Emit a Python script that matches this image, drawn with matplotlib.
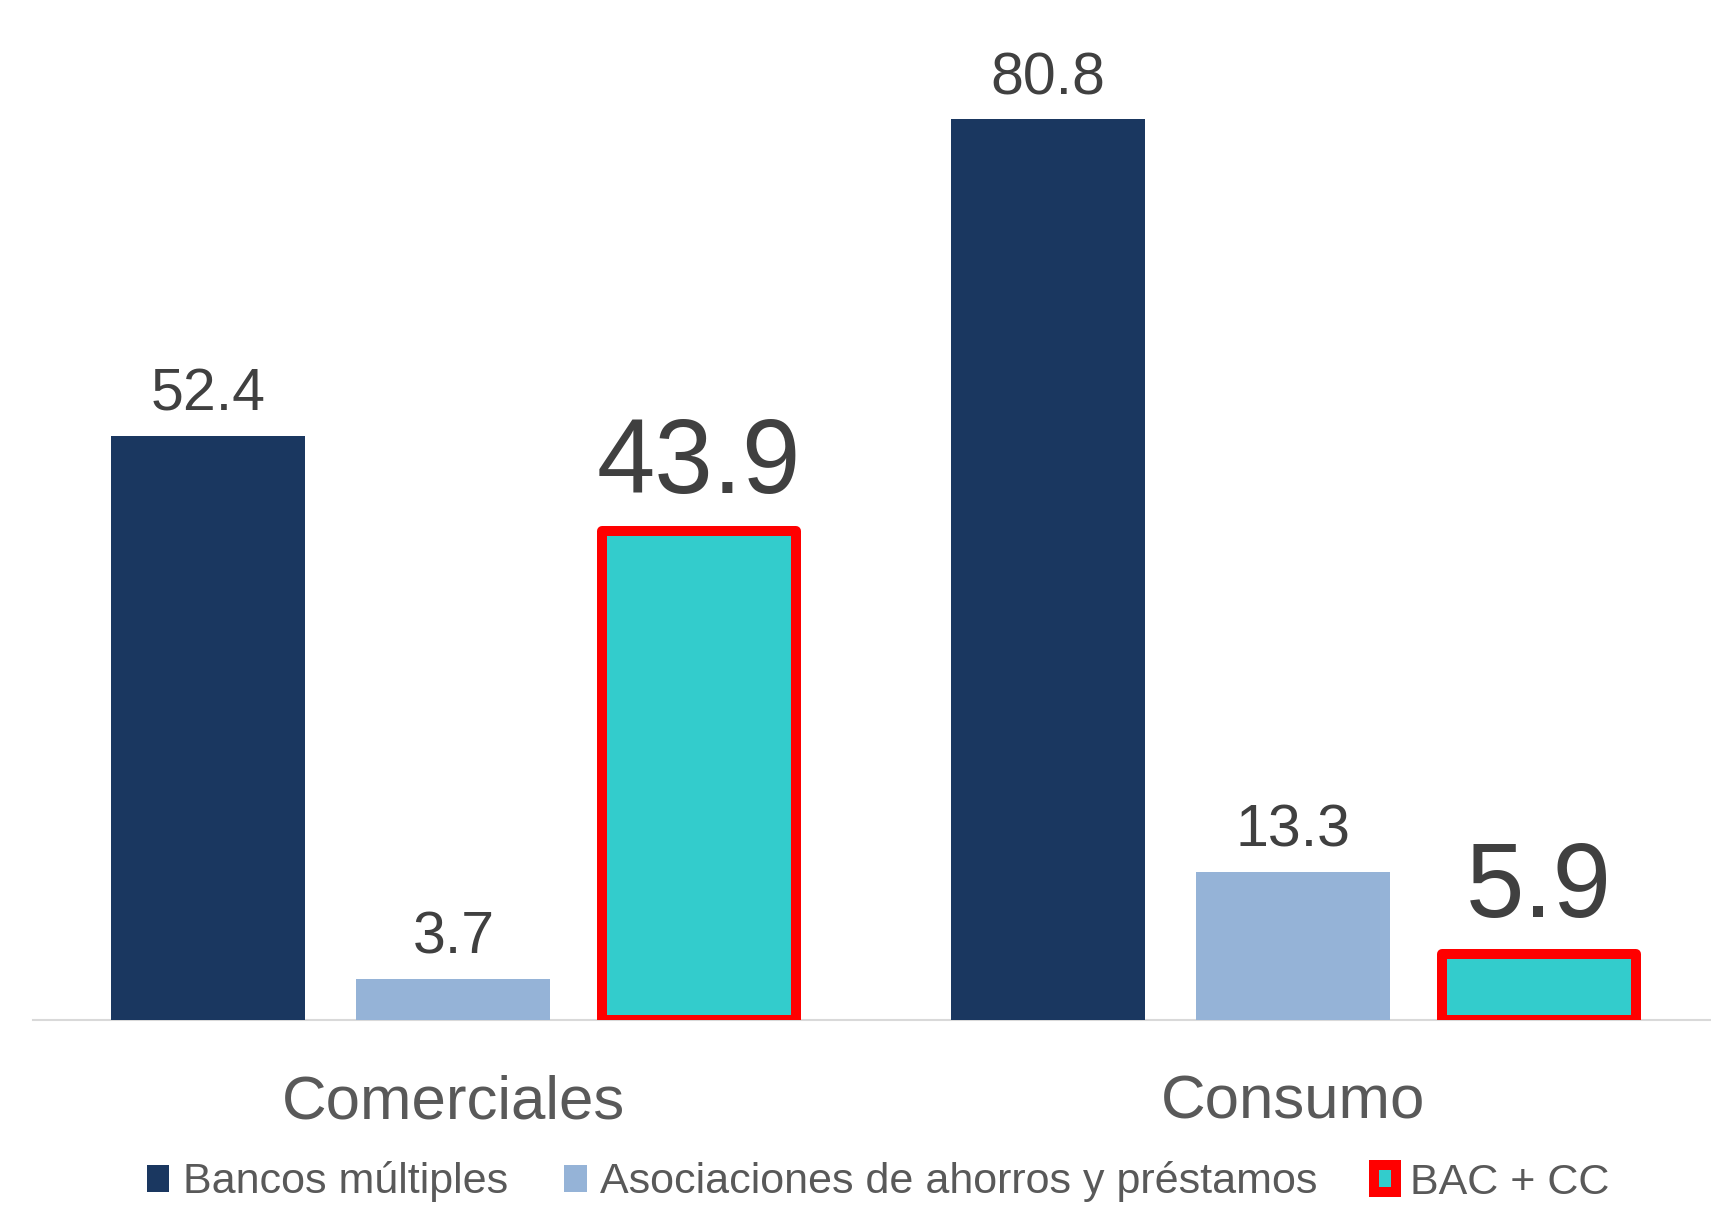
import matplotlib
matplotlib.use("Agg")
import matplotlib.pyplot as plt
import numpy as np

plt.rcParams['font.family'] = ['Liberation Sans', 'DejaVu Sans']

categories = ["Comerciales", "Consumo"]
series_names = ["Bancos múltiples", "Asociaciones de ahorros y préstamos", "BAC + CC"]
bancos = [52.4, 80.8]
asociaciones = [3.7, 13.3]
bac_cc = [43.9, 5.9]

colors = ["#1A3760", "#95B3D7", "#33CCCC"]

W, H = 1711, 1205
fig = plt.figure(figsize=(W / 100, H / 100), dpi=100)
ax = fig.add_axes([33 / W, 185 / H, 1 - 33 / W, 1020 / H])

step_px = 245.4
x0_px = 208
group_gap = 1.422  # distance (in bar steps) from last bar of group 1 to first of group 2
group_starts = np.array([0.0, 2 + group_gap])
bar_w = 194 / step_px

all_series = [bancos, asociaciones, bac_cc]
containers = []
for i, (vals, name, col) in enumerate(zip(all_series, series_names, colors)):
    xs = group_starts + i
    if i == 2:
        bc = ax.bar(xs, vals, width=bar_w, color=col, edgecolor="#FF0000",
                    linewidth=7.2, joinstyle="round", label=name, zorder=3)
    else:
        bc = ax.bar(xs, vals, width=bar_w, color=col, linewidth=0, label=name, zorder=3)
    containers.append(bc)
    for x, v in zip(xs, vals):
        if i == 2:
            ax.annotate(f"{v:.1f}", (x, v), xytext=(0, 27), textcoords="offset points",
                        ha="center", va="baseline", fontsize=75.5, color="#404040", zorder=4)
        else:
            ax.annotate(f"{v:.1f}", (x, v), xytext=(0, 18), textcoords="offset points",
                        ha="center", va="baseline", fontsize=42.5, color="#404040", zorder=4)

ax.set_xlim((33 - x0_px) / step_px, (W - x0_px) / step_px)
ax.set_ylim(0, 1020 / 11.15)

for s in ["top", "right", "left"]:
    ax.spines[s].set_visible(False)
ax.spines["bottom"].set_color("#D9D9D9")
ax.spines["bottom"].set_linewidth(1.5)
ax.spines["bottom"].set_zorder(2)
ax.set_yticks([])
ax.set_xticks(group_starts + 1)
ax.set_xticklabels(categories, fontsize=44.5, color="#595959")
ax.tick_params(axis="x", length=0, pad=39)

leg = ax.legend(handles=containers, loc="center left",
                bbox_to_anchor=(147 / W, 1 - 1182 / H), bbox_transform=fig.transFigure,
                ncol=3, frameon=False, fontsize=31, labelcolor="#595959",
                handlelength=0.52, handleheight=0.6, handletextpad=0.32,
                columnspacing=1.3, borderpad=0, borderaxespad=0)

fig.savefig("out.png", dpi=100)
